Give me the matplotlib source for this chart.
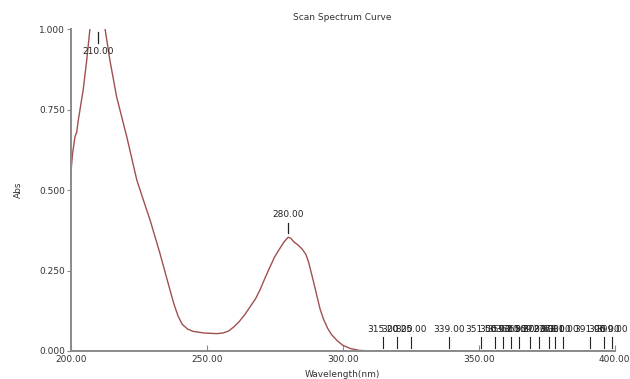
import matplotlib
matplotlib.use("Agg")
import matplotlib.pyplot as plt

# Spectrum data (wavelength nm, absorbance)
wavelength = [200.0, 200.7, 201.6, 202.2, 202.8, 204.0, 204.6, 205.9, 207.1, 208.5,
              210.0, 211.5, 212.6, 214.4, 216.9, 220.6, 224.3, 226.7, 229.2, 232.8,
              236.5, 238.0, 239.5, 241.0, 243.0, 245.0, 249.0, 253.7, 256.0, 258.0,
              260.0, 262.0, 264.0, 266.0, 268.0, 269.6, 271.5, 273.3, 275.0, 276.9,
              278.5, 280.0, 281.0, 282.0, 283.5, 285.0, 286.5, 287.5, 289.0, 290.5,
              291.7, 293.0, 294.5, 296.0, 298.0, 300.0, 302.7, 306.0, 310.0, 330.0,
              350.0, 370.0, 400.0]
absorbance = [0.547, 0.615, 0.667, 0.680, 0.718, 0.781, 0.812, 0.905, 1.004, 1.080,
              1.120, 1.080, 1.004, 0.905, 0.790, 0.667, 0.532, 0.470, 0.407, 0.304,
              0.190, 0.145, 0.108, 0.083, 0.068, 0.061, 0.056, 0.054, 0.056, 0.062,
              0.075, 0.092, 0.113, 0.138, 0.163, 0.190, 0.228, 0.262, 0.293, 0.319,
              0.340, 0.354, 0.350, 0.340, 0.330, 0.318, 0.300, 0.275, 0.225, 0.172,
              0.130, 0.098, 0.070, 0.050, 0.032, 0.018, 0.008, 0.002, 0.000, 0.000,
              0.000, 0.000, 0.000]

major_peaks = [210.0, 280.0]
minor_peaks = [315.0, 320.0, 325.0, 339.0, 351.0, 356.0, 359.0, 362.0, 365.0,
               369.0, 372.0, 376.0, 378.0, 381.0, 391.0, 396.0, 399.0]

x_ticks = [200, 250, 300, 350, 400]
y_ticks = [0.0, 0.25, 0.5, 0.75, 1.0]

fig = plt.figure(figsize=(6.3, 3.79), dpi=100)
ax = fig.add_axes([0.1122, 0.0739, 0.8635, 0.8483])

curve_color = "#a0504f"
text_color = "#333333"
spine_color = "#8a8a8a"

ax.plot(wavelength, absorbance, color=curve_color, lw=1.0)
ax.set_xlim(200, 400)
ax.set_ylim(0, 1.0)

for s in ["top", "right"]:
    ax.spines[s].set_visible(False)
for s in ["left", "bottom"]:
    ax.spines[s].set_color(spine_color)
    ax.spines[s].set_linewidth(1.4)

ax.set_xticks(x_ticks)
ax.set_xticklabels([f"{v:.2f}" for v in x_ticks])
ax.set_yticks(y_ticks)
ax.set_yticklabels([f"{v:.3f}" for v in y_ticks])
ax.tick_params(axis="x", direction="in", length=4, width=0.8, color=spine_color,
               labelsize=6.5, labelcolor=text_color, pad=3)
ax.tick_params(axis="y", direction="out", length=3, width=0.8, color=spine_color,
               labelsize=6.5, labelcolor=text_color, pad=1)

ax.set_title("Scan Spectrum Curve", fontsize=6.5, color=text_color, pad=7)
ax.set_xlabel("Wavelength(nm)", fontsize=6.5, color=text_color, labelpad=4)
ax.set_ylabel("Abs", fontsize=6.5, color=text_color, labelpad=12)

# Major peak markers
ax.plot([210, 210], [0.957, 0.993], color="#222222", lw=0.9)
ax.text(210, 0.93, "210.00", ha="center", va="center", fontsize=6.5, color="#222222")
ax.plot([280, 280], [0.367, 0.398], color="#222222", lw=0.9)
ax.text(280, 0.426, "280.00", ha="center", va="center", fontsize=6.5, color="#222222")

# Minor peak markers
for p in minor_peaks:
    ax.plot([p, p], [0.008, 0.044], color="#222222", lw=0.8)
    ax.text(p, 0.066, f"{p:.2f}", ha="center", va="center", fontsize=6.5, color="#222222")

fig.savefig("out.png", dpi=100)
